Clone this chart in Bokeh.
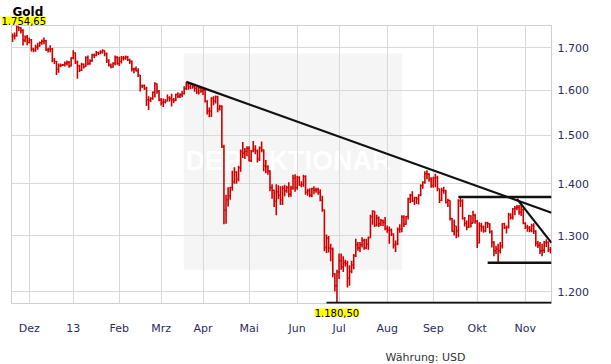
import pandas as pd
from bokeh.plotting import figure
from bokeh.models import Range1d, FixedTicker, Label, ColumnDataSource
from bokeh.embed import file_html
from bokeh.resources import INLINE

# ---------------- data (daily gold bars, USD) ----------------
first_day = "2012-11-20"
last_day = "2013-11-19"
holidays = ["2012-11-22", "2013-01-01", "2013-03-29"]

nov12_close = [1728, 1729, 1751, 1749, 1742, 1718, 1726, 1713]
nov12_high = [1735, 1737, 1754.65, 1752, 1750, 1745, 1730, 1731]
nov12_low = [1714, 1720, 1727, 1741, 1735, 1705, 1713, 1706]

dec12_close = [1719, 1696, 1694, 1701, 1704, 1712, 1715, 1717, 1695, 1696, 1697, 1670, 1667, 1648, 1657, 1658, 1659, 1662, 1664, 1656, 1675]
dec12_high = [1724, 1721, 1700, 1707, 1712, 1715, 1720, 1725, 1719, 1700, 1706, 1699, 1675, 1668, 1662, 1662, 1661, 1667, 1669, 1668, 1677]
dec12_low = [1710, 1691, 1689, 1690, 1695, 1702, 1707, 1708, 1692, 1688, 1689, 1665, 1661, 1635, 1640, 1653, 1656, 1655, 1657, 1652, 1655]

jan13_close = [1688, 1665, 1656, 1646, 1660, 1655, 1676, 1662, 1668, 1682, 1681, 1688, 1687, 1690, 1693, 1685, 1669, 1658, 1654, 1662, 1677, 1662]
jan13_high = [1694, 1688, 1669, 1659, 1664, 1662, 1679, 1681, 1672, 1685, 1686, 1692, 1690, 1694, 1696, 1693, 1688, 1672, 1662, 1665, 1681, 1679]
jan13_low = [1672, 1661, 1626, 1642, 1644, 1650, 1654, 1658, 1659, 1666, 1675, 1679, 1682, 1684, 1686, 1679, 1663, 1655, 1651, 1652, 1658, 1659]

feb13_close = [1667, 1675, 1675, 1677, 1671, 1667, 1649, 1649, 1645, 1635, 1610, 1610, 1604, 1578, 1577, 1581, 1595, 1615, 1597, 1578]
feb13_high = [1678, 1680, 1680, 1681, 1680, 1673, 1669, 1652, 1655, 1651, 1635, 1613, 1613, 1608, 1586, 1584, 1597, 1618, 1615, 1600]
feb13_low = [1656, 1662, 1669, 1671, 1668, 1661, 1643, 1639, 1643, 1630, 1597, 1605, 1600, 1564, 1555, 1573, 1578, 1583, 1592, 1575]

mar13_close = [1572, 1573, 1575, 1583, 1581, 1578, 1577, 1590, 1586, 1589, 1592, 1604, 1611, 1608, 1614, 1607, 1604, 1596, 1606, 1598]
mar13_high = [1582, 1581, 1580, 1590, 1586, 1592, 1582, 1592, 1595, 1593, 1598, 1609, 1618, 1616, 1616, 1615, 1611, 1607, 1608, 1607]
mar13_low = [1565, 1562, 1570, 1574, 1574, 1563, 1571, 1575, 1582, 1582, 1584, 1590, 1600, 1601, 1602, 1603, 1596, 1591, 1590, 1594]

apr13_close = [1601, 1575, 1553, 1553, 1581, 1575, 1585, 1557, 1563, 1476, 1348, 1368, 1376, 1392, 1404, 1423, 1409, 1432, 1465, 1462, 1466, 1472]
apr13_high = [1604, 1604, 1577, 1561, 1584, 1586, 1588, 1587, 1567, 1566, 1480, 1378, 1393, 1394, 1426, 1433, 1425, 1436, 1470, 1486, 1473, 1477]
apr13_low = [1589, 1572, 1545, 1539, 1540, 1566, 1570, 1550, 1554, 1473, 1321, 1322, 1355, 1368, 1386, 1400, 1400, 1405, 1424, 1452, 1450, 1456]

may13_close = [1447, 1467, 1470, 1467, 1450, 1473, 1469, 1436, 1434, 1425, 1392, 1387, 1365, 1384, 1377, 1368, 1391, 1386, 1392, 1379, 1391, 1411, 1392]
may13_high = [1477, 1469, 1488, 1479, 1470, 1476, 1487, 1470, 1448, 1437, 1427, 1399, 1388, 1399, 1397, 1395, 1396, 1398, 1396, 1403, 1396, 1418, 1419]
may13_low = [1445, 1444, 1464, 1460, 1443, 1446, 1464, 1425, 1421, 1418, 1385, 1370, 1354, 1338, 1369, 1358, 1358, 1375, 1382, 1373, 1374, 1388, 1384]

jun13_close = [1412, 1397, 1399, 1414, 1383, 1386, 1377, 1390, 1387, 1388, 1383, 1367, 1349, 1278, 1295, 1277, 1275, 1231, 1210, 1234]
jun13_high = [1416, 1415, 1405, 1418, 1417, 1390, 1391, 1392, 1395, 1392, 1392, 1389, 1376, 1349, 1302, 1299, 1285, 1278, 1232, 1238]
jun13_low = [1388, 1396, 1393, 1394, 1378, 1376, 1373, 1373, 1379, 1382, 1378, 1365, 1345, 1271, 1268, 1269, 1253, 1225, 1200, 1180.5]

jul13_close = [1254, 1243, 1251, 1249, 1223, 1235, 1246, 1263, 1283, 1277, 1283, 1291, 1277, 1284, 1296, 1335, 1346, 1319, 1333, 1322, 1328, 1325, 1313]
jul13_high = [1267, 1267, 1262, 1256, 1254, 1246, 1254, 1266, 1294, 1288, 1288, 1297, 1294, 1294, 1298, 1339, 1348, 1346, 1339, 1336, 1331, 1330, 1335]
jul13_low = [1222, 1238, 1234, 1244, 1207, 1210, 1232, 1239, 1261, 1272, 1270, 1278, 1274, 1275, 1274, 1296, 1320, 1316, 1317, 1316, 1318, 1318, 1310]

aug13_close = [1310, 1310, 1303, 1282, 1285, 1311, 1312, 1335, 1321, 1336, 1370, 1377, 1366, 1372, 1370, 1377, 1396, 1403, 1420, 1419, 1409, 1396]
aug13_high = [1319, 1317, 1313, 1304, 1291, 1315, 1321, 1338, 1338, 1337, 1372, 1380, 1385, 1374, 1374, 1379, 1399, 1405, 1425, 1427, 1421, 1413]
aug13_low = [1305, 1285, 1299, 1276, 1270, 1282, 1305, 1306, 1316, 1320, 1330, 1362, 1364, 1358, 1360, 1359, 1375, 1390, 1400, 1409, 1404, 1392]

sep13_close = [1411, 1412, 1390, 1367, 1387, 1386, 1363, 1367, 1332, 1308, 1318, 1309, 1366, 1366, 1332, 1323, 1316, 1337, 1323, 1338, 1327]
sep13_high = [1414, 1420, 1416, 1390, 1392, 1394, 1388, 1370, 1367, 1333, 1330, 1318, 1369, 1373, 1369, 1335, 1328, 1339, 1338, 1347, 1341]
sep13_low = [1392, 1393, 1385, 1362, 1365, 1380, 1361, 1354, 1328, 1307, 1300, 1295, 1297, 1354, 1330, 1317, 1310, 1314, 1315, 1323, 1322]

oct13_close = [1286, 1318, 1316, 1309, 1324, 1322, 1307, 1287, 1272, 1275, 1272, 1281, 1322, 1315, 1316, 1339, 1334, 1350, 1352, 1353, 1344, 1349, 1323]
oct13_high = [1329, 1325, 1324, 1319, 1326, 1326, 1323, 1310, 1290, 1281, 1285, 1288, 1323, 1324, 1319, 1343, 1342, 1352, 1356, 1358, 1358, 1361, 1351]
oct13_low = [1277, 1286, 1307, 1305, 1306, 1314, 1304, 1278, 1262, 1266, 1251, 1267, 1276, 1312, 1304, 1313, 1330, 1330, 1338, 1348, 1339, 1337, 1321]

nov13_close = [1316, 1314, 1310, 1318, 1308, 1286, 1282, 1272, 1273, 1287, 1288, 1274, 1275]
nov13_high = [1325, 1320, 1318, 1322, 1323, 1310, 1290, 1288, 1285, 1290, 1293, 1289, 1279]
nov13_low = [1312, 1307, 1306, 1306, 1303, 1280, 1277, 1266, 1262, 1268, 1279, 1270, 1267]

# month tick labels (January shows the year)
month_names = ["13", "Feb", "Mrz", "Apr", "Mai", "Jun", "Jul", "Aug", "Sep", "Okt", "Nov", "Dez"]

# price axis ticks
price_ticks = [1200, 1300, 1400, 1500, 1600, 1700]
price_tick_labels = ["1.200", "1.300", "1.400", "1.500", "1.600", "1.700"]

# drawn trend lines (start date, start price -> price at right edge)
trend_from = ["2013-03-19", "2013-10-28"]
trend_from_price = [1619.0, 1370.0]
trend_to_price = [1343.0, 1286.6]

# horizontal support / resistance lines (start date, price -> right edge)
level_from = ["2013-06-21", "2013-09-18", "2013-10-08"]
level_price = [1180.5, 1373.4, 1250.5]

# ---------------- assemble ----------------
months_c = [nov12_close, dec12_close, jan13_close, feb13_close, mar13_close, apr13_close,
            may13_close, jun13_close, jul13_close, aug13_close, sep13_close, oct13_close, nov13_close]
months_h = [nov12_high, dec12_high, jan13_high, feb13_high, mar13_high, apr13_high,
            may13_high, jun13_high, jul13_high, aug13_high, sep13_high, oct13_high, nov13_high]
months_l = [nov12_low, dec12_low, jan13_low, feb13_low, mar13_low, apr13_low,
            may13_low, jun13_low, jul13_low, aug13_low, sep13_low, oct13_low, nov13_low]
close = [v for m in months_c for v in m]
high = [v for m in months_h for v in m]
low = [v for m in months_l for v in m]
open_ = [close[0]] + close[:-1]

dates = pd.bdate_range(first_day, last_day)
dates = dates[~dates.isin(pd.to_datetime(holidays))]
n = len(dates)
assert n == len(close) == len(high) == len(low), (n, len(close), len(high), len(low))
idx = list(range(n))
day_index = {d: i for i, d in enumerate(dates.strftime("%Y-%m-%d"))}

month_first = [i for i in range(1, n) if dates[i].month != dates[i - 1].month]
month_labels = {i: month_names[dates[i].month - 1] for i in month_first}

def de_fmt(v):
    s = f"{v:,.2f}"
    return s.replace(",", "X").replace(".", ",").replace("X", ".")

RED = "#cc0000"
FONT = "DejaVu Sans"
TICK_COLOR = "#2b2b5c"

ymin = min(low) * 0.9994
ymax = max(high)
x_left, x_right = -0.5, n - 0.5

p = figure(width=611, height=364, x_range=Range1d(x_left, x_right),
           y_range=Range1d(ymin, ymax), y_axis_type="log", y_axis_location="right",
           output_backend="svg", toolbar_location=None,
           min_border_left=11, min_border_right=60, min_border_top=25, min_border_bottom=59)
p.background_fill_color = "white"
p.border_fill_color = "white"
p.outline_line_color = "#cfcfcf"

# watermark box + text (behind grid)
wm_left, wm_right, wm_bottom, wm_top = 81.8, 186.0, 1238.0, 1686.0
p.quad(left=[wm_left], right=[wm_right], bottom=[wm_bottom], top=[wm_top],
       fill_color="#f5f5f5", line_color=None, level="image")
p.add_layout(Label(x=(wm_left + wm_right) / 2, y=1447, text="DER  AKTIONÄR",
                   text_align="center", text_baseline="middle", text_color="white",
                   text_font="Liberation Sans", text_font_style="bold",
                   text_font_size="27px", level="image"))

# grid
p.xgrid.ticker = FixedTicker(ticks=month_first)
p.ygrid.ticker = FixedTicker(ticks=price_ticks)
for g in (p.xgrid, p.ygrid):
    g.grid_line_color = "#d9d9d9"
    g.grid_line_width = 1

# axes
xa = p.xaxis[0]
xa.ticker = FixedTicker(ticks=month_first)
xa.major_label_overrides = month_labels
ya = p.yaxis[0]
ya.ticker = FixedTicker(ticks=price_ticks)
ya.major_label_overrides = dict(zip(price_ticks, price_tick_labels))
for ax in (xa, ya):
    ax.axis_line_color = None
    ax.major_tick_line_color = None
    ax.minor_tick_line_color = None
    ax.major_tick_out = 0
    ax.major_tick_in = 0
    ax.major_label_text_font = FONT
    ax.major_label_text_font_size = "11px"
    ax.major_label_text_color = TICK_COLOR
xa.major_label_standoff = 18
ya.major_label_standoff = 6

# texts outside the frame (side panels are not clipped); positions via data coords + offsets
hi_label = Label(x=x_left, y=ymax, x_offset=-10, y_offset=1, text=de_fmt(max(high)),
                 text_font=FONT, text_font_size="10px", text_baseline="bottom",
                 text_align="left", text_color="black",
                 background_fill_color="#ffff00", background_fill_alpha=1.0, padding=0)
lo_label = Label(x=low.index(min(low)), y=ymin, y_offset=-13, text=de_fmt(min(low)),
                 text_font=FONT, text_font_size="10px", text_baseline="bottom",
                 text_align="center", text_color="black",
                 background_fill_color="#ffff00", background_fill_alpha=1.0, padding=0,
                 level="guide")
gold_label = Label(x=x_left, y=ymax, x_offset=1, y_offset=21, text="Gold",
                   text_font=FONT, text_font_style="bold", text_font_size="12px",
                   text_baseline="top", text_align="left", text_color="black", level="guide")
cur_label = Label(x=x_left, y=ymin, x_offset=374, y_offset=-47, text="Währung: USD",
                  text_font=FONT, text_font_size="11px", text_baseline="top",
                  text_align="left", text_color="#333333")
p.add_layout(hi_label, "above")
p.add_layout(lo_label, "above")
p.add_layout(gold_label, "below")
p.add_layout(cur_label, "below")

# OHLC bars
src = ColumnDataSource(dict(x=idx, xl=[i - 0.45 for i in idx], xr=[i + 0.45 for i in idx],
                            o=open_, h=high, l=low, c=close))
p.segment(x0="x", y0="l", x1="x", y1="h", source=src, line_color=RED, line_width=1.6)
p.segment(x0="xl", y0="o", x1="x", y1="o", source=src, line_color=RED, line_width=1.4)
p.segment(x0="x", y0="c", x1="xr", y1="c", source=src, line_color=RED, line_width=1.4)

# trend lines
p.segment(x0=[day_index[d] for d in trend_from], y0=trend_from_price,
          x1=[x_right] * len(trend_from), y1=trend_to_price,
          line_color="#111111", line_width=2.2)
p.segment(x0=[day_index[d] for d in level_from], y0=level_price,
          x1=[x_right] * len(level_from), y1=level_price,
          line_color="#111111", line_width=2.5)

open("out.html", "w").write(file_html(p, INLINE))
